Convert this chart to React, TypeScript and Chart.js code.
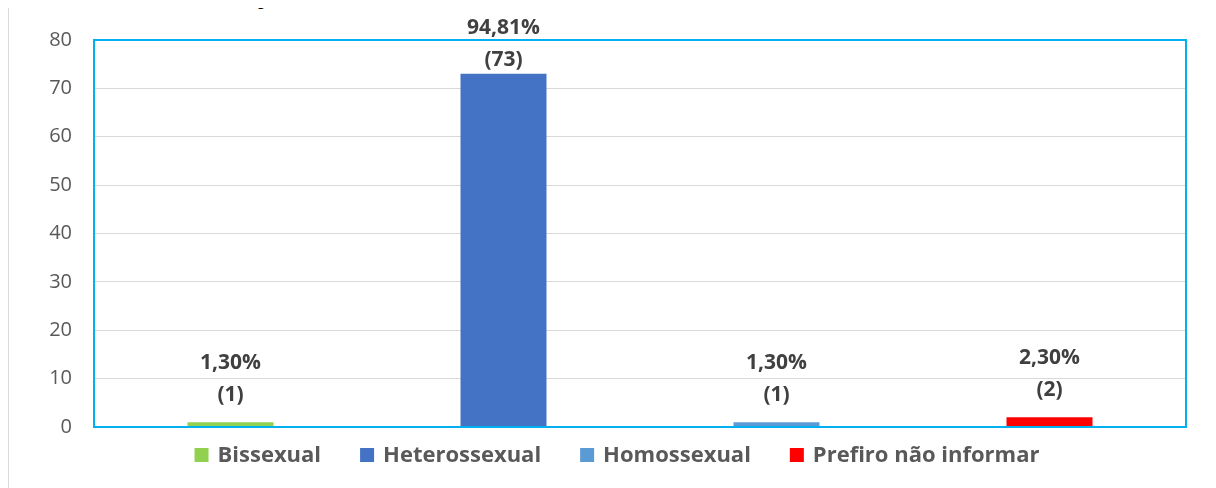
import React, { useEffect, useRef } from "react";
import { Chart, registerables } from "chart.js";

Chart.register(...registerables);

const categories = ["Bissexual", "Heterossexual", "Homossexual", "Prefiro não informar"];
const counts = [1, 73, 1, 2];
const percents = ["1,30%", "94,81%", "1,30%", "2,30%"];
const colors = ["#92D050", "#4472C4", "#5B9BD5", "#FF0000"];
const yTicks = [0, 10, 20, 30, 40, 50, 60, 70, 80];
const titleText = "Gráfico 4 – Orientação Sexual";

const FONT = "'Open Sans', 'DejaVu Sans', sans-serif";

const borderPlugin = {
  id: "plotBorder",
  afterDatasetsDraw(chart: any) {
    const { ctx, chartArea } = chart;
    ctx.save();
    ctx.strokeStyle = "#00B0F0";
    ctx.lineWidth = 2;
    ctx.strokeRect(chartArea.left, chartArea.top, chartArea.right - chartArea.left, chartArea.bottom - chartArea.top);
    ctx.restore();
  },
};

const labelPlugin = {
  id: "barLabels",
  afterDraw(chart: any) {
    const { ctx } = chart;
    const meta = chart.getDatasetMeta(0);
    ctx.save();
    ctx.font = `bold 21px ${FONT}`;
    ctx.fillStyle = "#404040";
    ctx.textAlign = "center";
    ctx.textBaseline = "middle";
    meta.data.forEach((bar: any, i: number) => {
      let second = bar.y - 27;
      let first = second - 32;
      if (first < 28) {
        const d = 28 - first;
        first += d;
        second += d;
      }
      ctx.fillText(percents[i], bar.x, first);
      ctx.fillText(`(${counts[i]})`, bar.x, second);
    });
    ctx.restore();
  },
};

const legendPlugin = {
  id: "customLegend",
  afterDraw(chart: any) {
    const { ctx } = chart;
    ctx.save();
    ctx.font = `bold 22px ${FONT}`;
    const box = 14;
    const gapText = 9;
    const gapItem = 39;
    const widths = categories.map((c) => ctx.measureText(c).width);
    const total = widths.reduce((a, w) => a + box + gapText + w, 0) + gapItem * (categories.length - 1);
    const cx = 617;
    const cy = 455;
    let x = cx - total / 2;
    ctx.textBaseline = "middle";
    ctx.textAlign = "left";
    categories.forEach((c, i) => {
      ctx.fillStyle = colors[i];
      ctx.fillRect(x, cy - box / 2, box, box);
      x += box + gapText;
      ctx.fillStyle = "#595959";
      ctx.fillText(c, x, cy + 1);
      x += widths[i] + gapItem;
    });
    ctx.restore();
  },
};

export default function App() {
  const ref = useRef<HTMLCanvasElement | null>(null);

  useEffect(() => {
    if (!ref.current) return;
    const chart = new Chart(ref.current, {
      type: "bar",
      data: {
        labels: categories,
        datasets: [
          {
            data: counts,
            backgroundColor: colors,
            borderWidth: 0,
            barPercentage: 0.315,
            categoryPercentage: 1,
          },
        ],
      },
      options: {
        animation: false,
        responsive: false,
        maintainAspectRatio: false,
        layout: { padding: { left: 0, top: 40, right: 30, bottom: 61 } },
        plugins: {
          legend: { display: false },
          tooltip: { enabled: false },
          title: { display: false },
        },
        scales: {
          x: {
            display: false,
            grid: { display: false },
          },
          y: {
            min: 0,
            max: 80,
            afterFit(scale: any) {
              scale.width = 94;
            },
            afterBuildTicks(scale: any) {
              scale.ticks = yTicks.map((v) => ({ value: v }));
            },
            ticks: {
              font: { family: FONT, size: 20 },
              color: "#595959",
              padding: 22,
            },
            grid: { color: "#D9D9D9", lineWidth: 1, drawTicks: false },
            border: { display: false },
          },
        },
      },
      plugins: [borderPlugin, labelPlugin, legendPlugin],
    });
    return () => chart.destroy();
  }, []);

  return (
    <div style={{ position: "relative", margin: "-8px 0 0 -8px", width: 1216, height: 488, overflow: "hidden", background: "#fff" }}>
      <div
        style={{
          position: "absolute",
          left: 12,
          top: -25,
          font: `bold 26px ${FONT}`,
          lineHeight: "36px",
          color: "#000",
          whiteSpace: "nowrap",
        }}
      >
        {titleText}
      </div>
      <div
        style={{
          position: "absolute",
          left: 7,
          top: 6,
          width: 1240,
          height: 520,
          border: "2px solid #D9D9D9",
          boxSizing: "border-box",
        }}
      />
      <canvas ref={ref} width={1216} height={488} style={{ position: "absolute", left: 0, top: 0 }} />
    </div>
  );
}
